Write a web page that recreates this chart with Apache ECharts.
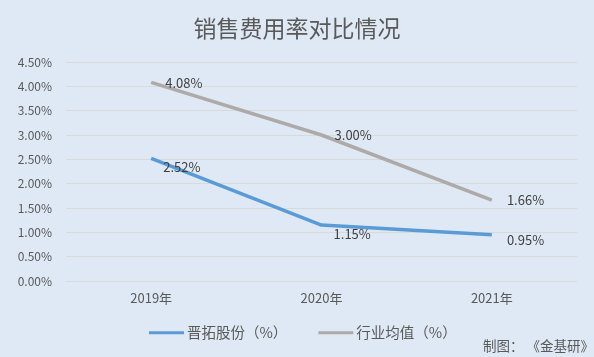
<!DOCTYPE html>
<html>
<head>
<meta charset="utf-8">
<script src="https://cdn.jsdelivr.net/npm/echarts@6/dist/echarts.min.js"></script>
<style>
html,body{margin:0;padding:0;background:#dfe9f5;}
#c{width:594px;height:357px;}
</style>
</head>
<body>
<div id="c"></div>
<script>
const categories = ['2019年', '2020年', '2021年'];
const jintuo = [2.52, 1.15, 0.95];
const industry = [4.08, 3.00, 1.66];
const seriesNames = ['晋拓股份（%）', '行业均值（%）'];
const titleText = '销售费用率对比情况';
const sourceText = '制图： 《金基研》';

const font = "Noto Sans CJK SC";
const jintuoOffsets = [[12, 9], [12, 9], [15, 5]];
const industryOffsets = [[14, 1], [13, 0], [15, 0]];

function items(values, offsets) {
  return values.map((v, i) => ({
    value: v,
    label: { offset: offsets[i] }
  }));
}

const chart = echarts.init(document.getElementById('c'));
chart.setOption({
  backgroundColor: '#dfe9f5',
  animation: false,
  title: {
    text: titleText,
    left: 'center',
    top: 12,
    textStyle: { fontFamily: font, fontSize: 23, fontWeight: 'normal', color: '#595959' }
  },
  graphic: [{
    type: 'text',
    left: 483,
    top: 339,
    style: { text: sourceText, fontFamily: font, fontSize: 13.5, fill: '#595959' }
  }],
  legend: {
    bottom: 17,
    left: 149,
    padding: 0,
    itemWidth: 35,
    itemHeight: 3,
    itemGap: 31,
    icon: 'rect',
    textStyle: { fontFamily: font, fontSize: 14.5, color: '#595959', padding: [0, 0, 0, -2] },
    data: seriesNames
  },
  grid: { left: 66, right: 17, top: 62, bottom: 76 },
  xAxis: {
    type: 'category',
    data: categories,
    boundaryGap: true,
    axisLine: { show: true, lineStyle: { color: '#d9d9d9' } },
    axisTick: { show: false },
    axisLabel: { fontFamily: font, fontSize: 13, color: '#595959', margin: 11 }
  },
  yAxis: {
    type: 'value',
    min: 0,
    max: 4.5,
    interval: 0.5,
    axisLine: { show: false },
    axisTick: { show: false },
    splitLine: { lineStyle: { color: '#d9d9d9', width: 1 } },
    axisLabel: {
      fontFamily: font, fontSize: 12, color: '#595959', margin: 14,
      formatter: v => v.toFixed(2) + '%'
    }
  },
  series: [
    {
      name: seriesNames[0],
      type: 'line',
      data: items(jintuo, jintuoOffsets),
      symbol: 'circle',
      symbolSize: 0.1,
      itemStyle: { color: '#5b9bd5' },
      lineStyle: { color: '#5b9bd5', width: 3.5 },
      label: {
        show: true, position: 'right', distance: 0,
        fontFamily: font, fontSize: 13, color: '#404040',
        formatter: p => p.value.toFixed(2) + '%'
      }
    },
    {
      name: seriesNames[1],
      type: 'line',
      data: items(industry, industryOffsets),
      symbol: 'circle',
      symbolSize: 0.1,
      itemStyle: { color: '#aeaaaa' },
      lineStyle: { color: '#aeaaaa', width: 3.5 },
      label: {
        show: true, position: 'right', distance: 0,
        fontFamily: font, fontSize: 13, color: '#404040',
        formatter: p => p.value.toFixed(2) + '%'
      }
    }
  ]
});
</script>
</body>
</html>
